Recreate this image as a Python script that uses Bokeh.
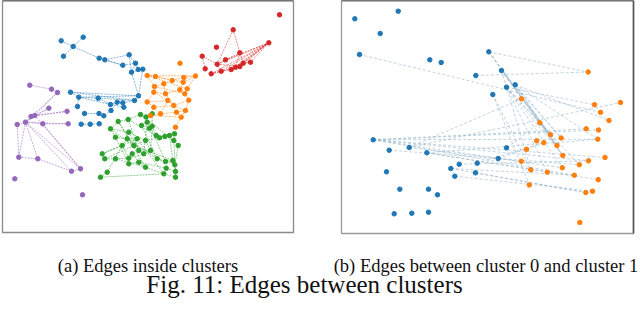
from bokeh.plotting import figure
from bokeh.models import Range1d, Label, ColumnDataSource
from bokeh.embed import file_html
from bokeh.resources import INLINE

# ---------------- Panel (a): points of each cluster (panel units, y up) -------------
blue_x = [58.7, 80.7, 70.7, 61, 96.7, 102.3, 126.7, 120.3, 133, 129, 135.7, 140.3, 136, 68, 76.3,
          95.7, 75, 108, 114.7, 120.3, 132, 121.3, 82, 96.5, 101.3, 108.5, 78.7, 87.7, 96.7]
blue_y = [191.7, 195.3, 186, 176.3, 174.3, 172.7, 177.7, 167.3, 169.3, 160.3, 163, 163.3, 136.7, 140.3, 135.3,
          134.3, 126, 128, 130.3, 129.7, 132, 125.3, 119, 119, 116.7, 122, 108.3, 108.3, 108.7]
blue_edges = [(0, 2), (1, 2), (2, 3), (2, 4), (4, 5), (5, 6), (5, 7), (4, 7), (6, 8), (7, 8), (8, 9), (8, 10),
              (9, 11), (10, 11), (6, 9), (11, 12), (9, 12), (12, 13), (12, 14), (13, 14), (14, 15), (15, 17),
              (14, 17), (17, 18), (18, 19), (19, 20), (15, 20), (14, 16), (19, 21), (17, 21), (18, 25),
              (25, 24), (22, 23), (23, 24), (26, 27), (27, 28), (12, 20), (13, 20)]

purple_x = [27.3, 49, 55, 46.3, 64.5, 28.5, 32.3, 14.7, 23, 40.3, 65.7, 16.3, 35.3, 69, 78, 12.3, 80]
purple_y = [147.3, 143.3, 140, 124.3, 121.2, 116, 117, 108, 110.3, 108.7, 108.7, 75.3, 73.7, 61.3, 63.7, 53.7, 37.7]
purple_edges = [(0, 1), (1, 2), (2, 5), (2, 6), (3, 6), (4, 6), (4, 5), (5, 8), (6, 8), (8, 7), (8, 9), (8, 10),
                (9, 10), (7, 11), (8, 11), (11, 12), (12, 13), (13, 14), (8, 14), (8, 13), (9, 14), (6, 14),
                (8, 12), (3, 8)]

green_x = [108, 115.7, 125.7, 138, 143.5, 144.7, 139, 147, 149.7, 153.7, 157, 162.3, 167, 172, 171.3, 175.7,
           113, 124.7, 134.7, 143, 131.3, 136.3, 141.3, 148, 154.7, 163, 170.3, 172.3, 173, 163.7, 99.7,
           102.3, 113, 126.3, 129.7, 126.3, 136.3, 143, 161.3, 173, 98, 104.7, 119.7, 126.3, 149.7]
green_y = [103.7, 111, 113, 118, 115.5, 110.3, 107, 104.3, 106.3, 97, 94.7, 96, 97, 98.7, 92, 87,
           95.3, 93.7, 93.7, 92, 87, 82, 78.7, 82, 73.7, 71, 72, 67.7, 61, 64.3, 78.7,
           73.7, 73.7, 74.3, 78.7, 68.7, 70.3, 65.3, 58.7, 55.3, 55.3, 60.3, 87, 100.3, 118.7]
green_edges = [(0, 1), (1, 2), (2, 3), (3, 4), (4, 5), (5, 6), (6, 7), (7, 8), (8, 9), (9, 10), (10, 11),
               (11, 12), (12, 13), (13, 14), (14, 15), (15, 27), (14, 28), (27, 28), (28, 39), (26, 27),
               (25, 26), (24, 25), (23, 24), (22, 23), (21, 22), (20, 21), (18, 20), (17, 18), (16, 17),
               (16, 0), (0, 43), (43, 19), (19, 23), (30, 31), (31, 32), (32, 33), (33, 34), (34, 36),
               (36, 37), (37, 38), (38, 39), (40, 41), (40, 38), (41, 42), (42, 17), (30, 42), (30, 18),
               (31, 19), (1, 20), (2, 21), (6, 24), (4, 25), (5, 22), (43, 21), (3, 14), (0, 22), (16, 35),
               (35, 36), (36, 29), (29, 28), (2, 9), (17, 24), (20, 26), (42, 33), (44, 4), (44, 8),
               (19, 10), (32, 37), (1, 37), (12, 26), (8, 23), (24, 27), (33, 22), (18, 38)]

orange_x = [177.5, 193, 181.3, 180.7, 169.7, 144.7, 153, 161.3, 152, 151.3, 163, 177.3, 182.3, 184.7, 165.3,
            186.3, 144.7, 151.3, 171.3, 174, 183, 158, 148, 178.7, 173]
orange_y = [169.3, 156.5, 155, 150.3, 152, 157, 156, 148.7, 146, 140.3, 138.7, 142.7, 138.7, 143.7, 132,
            132.3, 130.5, 125.3, 127, 120.3, 122, 118.7, 117, 115.3, 105.3]
orange_edges = [(5, 6), (6, 4), (4, 2), (2, 1), (1, 3), (3, 11), (5, 8), (8, 9), (9, 10), (10, 11), (11, 12),
                (12, 13), (13, 1), (7, 4), (7, 10), (8, 7), (9, 14), (14, 18), (18, 15), (15, 12), (16, 17),
                (17, 21), (21, 19), (19, 20), (20, 15), (16, 9), (22, 17), (22, 23), (23, 19), (23, 24),
                (14, 21), (10, 18), (5, 13), (6, 3), (16, 14), (17, 18), (18, 20), (8, 12), (5, 1), (22, 21),
                (20, 23)]

red_x = [277, 230.7, 214, 237.3, 199.7, 266.3, 214.7, 202.7, 208.7, 218.7, 228.7, 233, 237.3, 240.7, 248, 223]
red_y = [217.7, 202.7, 185.3, 179.7, 176.3, 189.7, 168.3, 163.7, 158.7, 161.3, 163, 165.3, 166, 169.3, 170.3,
         172.7]
red_edges = [(1, 3), (1, 6), (3, 13), (3, 11), (4, 6), (4, 7), (6, 15), (15, 3), (8, 9), (9, 10), (10, 11),
             (11, 12), (12, 13), (13, 14), (14, 5), (5, 8), (5, 9), (5, 10), (5, 11), (5, 12), (5, 13),
             (5, 6), (5, 15), (8, 12), (6, 12), (6, 9)]

# ---------------- Panel (b): cluster 0 (blue) and cluster 1 (orange) ----------------
c0_x = [13.3, 56.7, 38.7, 18, 88.3, 99.7, 134.3, 147.3, 160, 173.7, 165, 151.3, 31.7, 47.7, 67.7, 85.3, 45,
        109.3, 117.7, 113.3, 135.7, 134, 58.3, 87, 96, 52.7, 70.3, 87, 165, 156.7]
c0_y = [214.7, 222.3, 200, 179, 173.7, 171, 158, 181.7, 163, 148.7, 146.3, 139, 93.7, 83.3, 86, 80.7, 61.7,
        65, 69.3, 57.3, 70.3, 60.7, 44.3, 44.3, 38.7, 19.7, 20.3, 21.3, 85.7, 75]
c1_x = [246.7, 180, 253, 279, 259, 267.5, 198.3, 244.7, 257, 209, 219.7, 195.2, 202.3, 256.3, 215.5, 185,
        221.3, 179.8, 263.5, 247, 237.8, 189.3, 205.8, 220.8, 232.8, 256.7, 187.8, 244.3, 251, 238.3]
c1_y = [161.5, 134.7, 128.8, 131, 121.2, 113, 110.7, 104.7, 103.5, 98.8, 95.5, 92.7, 90.8, 94.3, 88, 84.2,
        78, 72.2, 76, 72.7, 68.8, 63.7, 61.3, 65.7, 58.3, 53.8, 48.5, 41, 42.3, 11]
cross_edges = [(7, 0), (6, 0), (3, 4), (7, 9), (7, 14), (7, 16), (8, 9), (8, 14), (8, 16), (8, 10), (9, 16),
               (9, 10), (9, 14), (10, 16), (10, 9), (10, 20), (10, 23), (9, 13), (11, 21), (11, 26), (8, 21),
               (10, 22), (14, 1), (12, 7), (12, 13), (12, 18), (12, 19), (12, 8), (14, 3), (15, 13), (15, 25),
               (17, 24), (17, 27), (18, 19), (20, 12), (29, 12), (28, 6), (21, 27), (13, 20), (12, 23),
               (19, 28), (10, 2), (9, 5), (12, 24), (14, 17), (15, 22)]

captions = ["(a) Edges inside clusters", "(b) Edges between cluster 0 and cluster 1"]
fig_title = "Fig. 11: Edges between clusters"

# ---------------- figure ----------------
A_W, A_H = 291, 232      # panel (a) extent in its units
B_W, B_H = 292, 233      # panel (b) extent in its units

p = figure(width=640, height=320, output_backend="svg", toolbar_location=None,
           x_range=Range1d(-2, 638), y_range=Range1d(-88, 232),
           x_axis_location=None, y_axis_location=None, min_border=0)
p.grid.visible = False
p.outline_line_color = None
p.background_fill_color = "white"
p.border_fill_color = "white"
p.extra_x_ranges = {"bx": Range1d(-341, 299)}
p.extra_y_ranges = {"by": Range1d(-87, 233)}


def edges(xs0, ys0, xs1, ys1, pairs):
    return dict(x0=[xs0[a] for a, b in pairs], y0=[ys0[a] for a, b in pairs],
                x1=[xs1[b] for a, b in pairs], y1=[ys1[b] for a, b in pairs])


clusters = [
    (blue_x, blue_y, blue_edges, "#1f77b4"),
    (purple_x, purple_y, purple_edges, "#9467bd"),
    (green_x, green_y, green_edges, "#2ca02c"),
    (orange_x, orange_y, orange_edges, "#ff7f0e"),
    (red_x, red_y, red_edges, "#d62728"),
]

# frames
p.quad(left=[0], right=[A_W], bottom=[0], top=[A_H], fill_color=None, line_color="#8a8a8a", line_width=1.3)
p.segment(x0=[0], y0=[A_H], x1=[A_W], y1=[A_H], line_color="#222222", line_width=1.3)
p.quad(left=[0], right=[B_W], bottom=[0], top=[B_H], fill_color=None, line_color="#9a9a9a", line_width=1.3,
       x_range_name="bx", y_range_name="by")
p.segment(x0=[0], y0=[B_H], x1=[B_W], y1=[B_H], line_color="#222222", line_width=1.3,
          x_range_name="bx", y_range_name="by")
p.segment(x0=[B_W], y0=[0], x1=[B_W], y1=[B_H], line_color="#555555", line_width=1.6,
          x_range_name="bx", y_range_name="by")

for xs, ys, pairs, col in clusters:
    p.segment(source=ColumnDataSource(edges(xs, ys, xs, ys, pairs)), x0="x0", y0="y0", x1="x1", y1="y1",
              line_color=col, line_alpha=0.6, line_width=0.9, line_dash="2 1")
for xs, ys, pairs, col in clusters:
    p.scatter(xs, ys, size=4.5, fill_color=col, line_color=col)

p.segment(source=ColumnDataSource(edges(c0_x, c0_y, c1_x, c1_y, cross_edges)), x0="x0", y0="y0",
          x1="x1", y1="y1", line_color="#8fb0c6", line_alpha=0.55, line_width=1, line_dash="3 2",
          x_range_name="bx", y_range_name="by")
p.scatter(c0_x, c0_y, size=4.5, fill_color="#1f77b4", line_color="#1f77b4",
          x_range_name="bx", y_range_name="by")
p.scatter(c1_x, c1_y, size=4.5, fill_color="#ff7f0e", line_color="#ff7f0e",
          x_range_name="bx", y_range_name="by")

serif = "Liberation Serif"
p.add_layout(Label(x=145.5, y=-33, text=captions[0], text_font=serif, text_font_size="18.5px",
                   text_align="center", text_baseline="middle", text_color="#111111"))
p.add_layout(Label(x=483.5, y=-33, text=captions[1], text_font=serif, text_font_size="18.5px",
                   text_align="center", text_baseline="middle", text_color="#111111"))
p.add_layout(Label(x=302, y=-52, text=fig_title, text_font=serif, text_font_size="25px",
                   text_align="center", text_baseline="middle", text_color="#111111"))

open("out.html", "w").write(file_html(p, INLINE))
